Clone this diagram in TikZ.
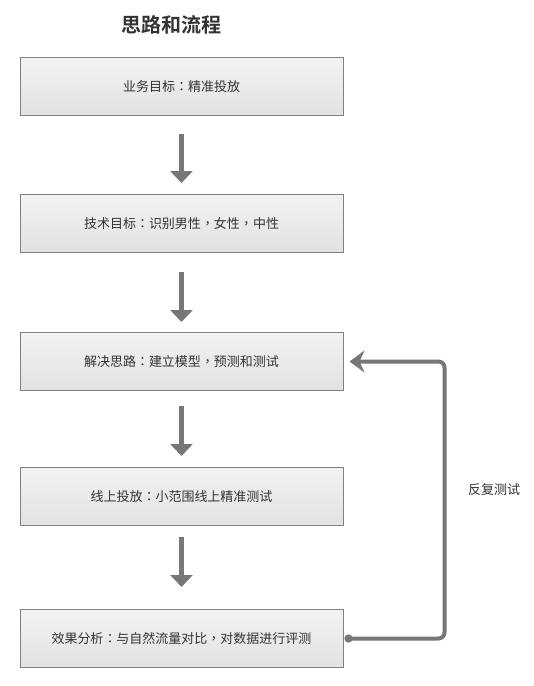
\documentclass[tikz,border=0pt]{standalone}
\usepackage{fontspec}
\setmainfont{Noto Sans CJK SC}[BoldFont={Noto Sans CJK SC Bold}]
\newfontfamily\punc{Noto Sans CJK TC}
\usetikzlibrary{arrows.meta, positioning}
\definecolor{boxtop}{HTML}{F2F2F2}
\definecolor{boxbot}{HTML}{E2E2E2}
\definecolor{boxline}{HTML}{808080}
\definecolor{flowgray}{HTML}{777777}
\definecolor{textdark}{HTML}{333333}

\begin{document}
\begin{tikzpicture}[
        x=1pt, y=-1pt,
        node distance=79pt,
        box/.style={rectangle, draw=boxline, line width=1pt, top color=boxtop, bottom color=boxbot, align=center, minimum width=323pt, minimum height=58pt, text=textdark, font=\fontsize{13pt}{15pt}\selectfont},
        arrow/.style={-{Triangle[width=22pt, length=12pt]}, line width=5pt, draw=flowgray},
        retry/.style={{Circle[length=8pt]}-{Stealth[width=22pt, length=15pt, inset=5pt]}, line width=4pt, draw=flowgray, rounded corners=6pt}
    ]
        \useasboundingbox (0,0) rectangle (534,686);

        \node[text=textdark, font=\bfseries\fontsize{20pt}{24pt}\selectfont] (title) at (171,25) {思路和流程};
        \node[box] (goal) at (181.5,86.5) {业务目标{\punc ：}精准投放};
        \node[box, below=78pt of goal] (tech) {技术目标{\punc ：}识别男性{\punc ，}女性{\punc ，}中性};
        \node[box, below=79pt of tech] (solve) {解决思路{\punc ：}建立模型{\punc ，}预测和测试};
        \node[box, below=76pt of solve] (online) {线上投放{\punc ：}小范围线上精准测试};
        \node[box, below=83pt of online] (effect) {效果分析{\punc ：}与自然流量对比{\punc ，}对数据进行评测};
        \node[text=textdark, font=\fontsize{13pt}{15pt}\selectfont] (retrylabel) at (494,490) {反复测试};

        \draw[arrow] ([yshift=-18pt]goal.south) -- ([yshift=11pt]tech.north);
        \draw[arrow] ([yshift=-19pt]tech.south) -- ([yshift=10pt]solve.north);
        \draw[arrow] ([yshift=-15pt]solve.south) -- ([yshift=11pt]online.north);
        \draw[arrow] ([yshift=-11pt]online.south) -- ([yshift=22pt]effect.north);
        \draw[retry] ([xshift=1pt]effect.east) -- ++(100,0) |- ([xshift=6pt]solve.east);
    \end{tikzpicture}
\end{document}
